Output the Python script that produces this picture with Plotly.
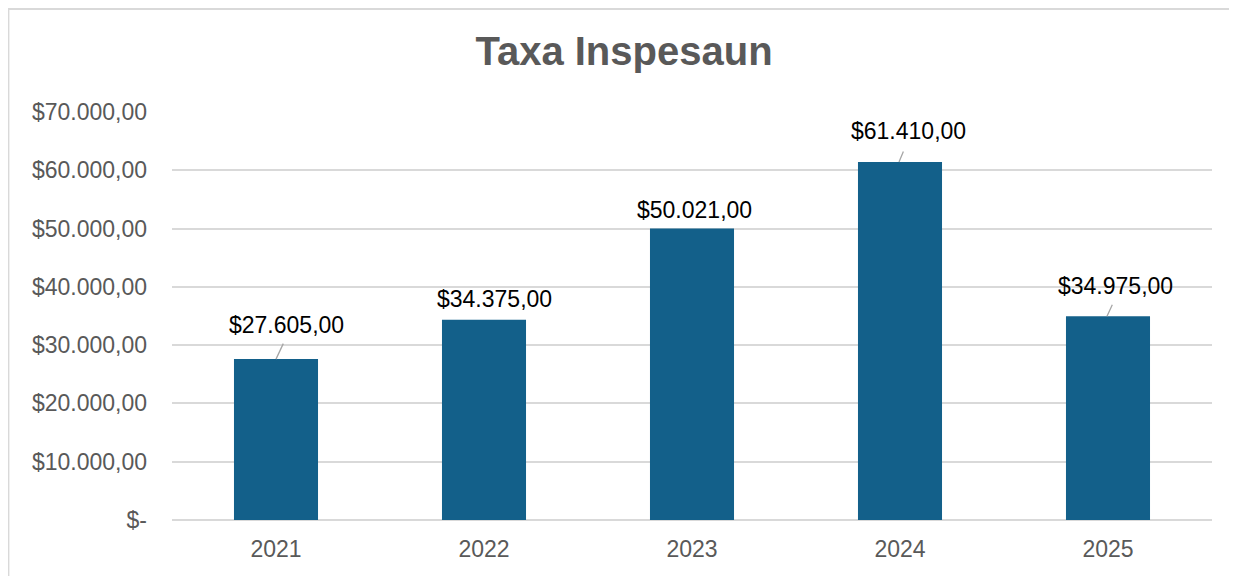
import plotly.graph_objects as go

# ---- data ----
years = ["2021", "2022", "2023", "2024", "2025"]
values = [27605, 34375, 50021, 61410, 34975]
y_tick_vals = [0, 10000, 20000, 30000, 40000, 50000, 60000, 70000]
y_tick_text = ["$-", "$10.000,00", "$20.000,00", "$30.000,00", "$40.000,00",
               "$50.000,00", "$60.000,00", "$70.000,00"]
title_text = "Taxa Inspesaun"

# ---- label placement (pixels, style only) ----
label_dx = [10, 10, 2, 8, 7]
label_dy = [34, 21, 18, 31, 30]
leader_show = [True, False, False, True, True]
leader_tip_dx = [0, 0, 0, -1, -1]
leader_ax = [8, 0, 0, 5, 6]
leader_ay = [-17, 0, 0, -12, -13]


def fmt_money(v):
    s = f"{v:,.2f}"
    s = s.replace(",", "X").replace(".", ",").replace("X", ".")
    return "$" + s


FONT = "Liberation Sans, Arial, sans-serif"
GREY = "#595959"
GRID = "#d9d9d9"
W, H = 1229, 568  # page body has an 8px margin

fig = go.Figure()
fig.add_trace(go.Bar(
    x=years, y=values,
    marker=dict(color="#13608a", line=dict(width=0)),
    hoverinfo="skip",
))

annotations = []
for i, v in enumerate(values):
    # category axis: refer to bars by their category index
    annotations.append(dict(
        x=i, y=v, xref="x", yref="y", text=fmt_money(v), showarrow=False,
        xshift=label_dx[i], yshift=label_dy[i],
        font=dict(family=FONT, size=23, color="#000000"),
        xanchor="center", yanchor="middle",
    ))
    if leader_show[i]:
        annotations.append(dict(
            x=i, y=v, xref="x", yref="y", text="", showarrow=True,
            arrowhead=0, arrowwidth=1.3, arrowcolor="#a6a6a6",
            ax=leader_ax[i], ay=leader_ay[i], xshift=leader_tip_dx[i],
        ))

fig.update_layout(
    width=W, height=H,
    margin=dict(l=164, r=25, t=104, b=56, autoexpand=False),
    paper_bgcolor="white", plot_bgcolor="white",
    showlegend=False,
    bargap=0.596,
    title=dict(
        text="<b>" + title_text + "</b>",
        font=dict(family=FONT, size=40, color=GREY),
        x=616 / W, xanchor="center", xref="container",
        y=1 - 29 / H, yanchor="top", yref="container",
    ),
    xaxis=dict(
        type="category", automargin=False,
        range=[-0.5, len(years) - 0.5],
        showgrid=False, showline=False, zeroline=False,
        ticks="", tickfont=dict(family=FONT, size=23, color=GREY),
        ticklabelstandoff=13,
    ),
    yaxis=dict(
        automargin=False,
        range=[0, 70000], tickvals=y_tick_vals, ticktext=y_tick_text,
        showgrid=True, gridcolor=GRID, gridwidth=1.6,
        zeroline=True, zerolinecolor=GRID, zerolinewidth=1.6,
        showline=False, ticks="",
        tickfont=dict(family=FONT, size=23, color=GREY),
        ticklabelstandoff=24,
    ),
    annotations=annotations,
    shapes=[dict(
        type="rect", xref="paper", yref="paper",
        x0=(-163.5) / 1040, x1=1.1, y0=-0.3, y1=(408 + 104 - 1) / 408,
        line=dict(color=GRID, width=1.8), fillcolor="rgba(0,0,0,0)", layer="below",
    )],
)

fig.write_html("out.html")
